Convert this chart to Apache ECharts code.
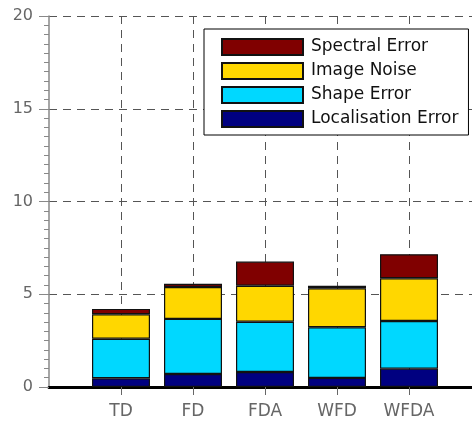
<!DOCTYPE html>
<html>
<head>
<meta charset="utf-8">
<script src="https://cdn.jsdelivr.net/npm/echarts@6/dist/echarts.min.js"></script>
<style>
  html, body { margin: 0; padding: 0; background: #fff; }
  #chart { width: 472px; height: 423px; }
</style>
</head>
<body>
<div id="chart"></div>
<script>
// Error budget per method, stacked from the bottom up
const categories = ['TD', 'FD', 'FDA', 'WFD', 'WFDA'];
const localisationError = [0.47, 0.70, 0.81, 0.49, 0.99];
const shapeError = [2.13, 2.97, 2.71, 2.73, 2.57];
const imageNoise = [1.32, 1.72, 1.94, 2.10, 2.30];
const spectralError = [0.29, 0.17, 1.30, 0.14, 1.30];
const yTicks = [0, 5, 10, 15, 20];

// one empty slot on each side keeps the methods at positions 1..5 of a 0..6 span
const axisSlots = [''].concat(categories, ['']);
const FONT = 'DejaVu Sans';
const dash = [8, 6];
const isMethod = (idx) => idx > 0 && idx < axisSlots.length - 1;

function padded(values) {
  return [null].concat(values, [null]);
}

function barSeries(name, values, color) {
  return {
    name: name,
    type: 'bar',
    stack: 'total',
    barWidth: 58,
    data: padded(values),
    itemStyle: { color: color, borderColor: '#111', borderWidth: 1.2 },
    emphasis: { disabled: true }
  };
}

const chart = echarts.init(document.getElementById('chart'), null, { renderer: 'canvas' });
chart.setOption({
  animation: false,
  backgroundColor: '#fff',
  grid: { left: 49, top: 16, width: 432, height: 371, containLabel: false, outerBoundsMode: 'none' },
  legend: {
    left: 204,
    top: 29,
    orient: 'vertical',
    data: ['Spectral Error', 'Image Noise', 'Shape Error', 'Localisation Error'],
    icon: 'rect',
    itemWidth: 81,
    itemHeight: 16,
    itemGap: 6,
    padding: [9, 10, 7, 17],
    backgroundColor: '#fff',
    borderColor: '#000',
    borderWidth: 1,
    borderRadius: 0,
    selectedMode: false,
    textStyle: { fontFamily: FONT, fontSize: 17, lineHeight: 16, color: '#111', padding: [0, 0, 0, 3] }
  },
  xAxis: {
    type: 'category',
    data: axisSlots,
    boundaryGap: false,
    axisLine: { show: true, lineStyle: { color: '#000', width: 3 } },
    axisTick: {
      show: true,
      interval: isMethod,
      length: 13,
      lineStyle: { color: '#666', width: 1, type: dash }
    },
    axisLabel: {
      interval: isMethod,
      fontFamily: FONT,
      fontSize: 17,
      color: '#666',
      margin: 16
    },
    splitLine: { show: true, interval: isMethod, lineStyle: { color: '#555', width: 1, type: dash } }
  },
  yAxis: {
    type: 'value',
    min: 0,
    max: 20,
    interval: 5,
    axisLine: { show: true, lineStyle: { color: '#888', width: 1.5 } },
    axisTick: { show: true, length: 10, lineStyle: { color: '#888', width: 1 } },
    minorTick: { show: true, splitNumber: 10, length: 5, lineStyle: { color: '#888', width: 1 } },
    axisLabel: {
      customValues: yTicks,
      fontFamily: FONT,
      fontSize: 16,
      color: '#666',
      margin: 16
    },
    splitLine: { show: true, lineStyle: { color: '#555', width: 1, type: dash } }
  },
  series: [
    barSeries('Localisation Error', localisationError, '#000080'),
    barSeries('Shape Error', shapeError, '#00D8FF'),
    barSeries('Image Noise', imageNoise, '#FFD700'),
    barSeries('Spectral Error', spectralError, '#800000')
  ]
});
</script>
</body>
</html>
